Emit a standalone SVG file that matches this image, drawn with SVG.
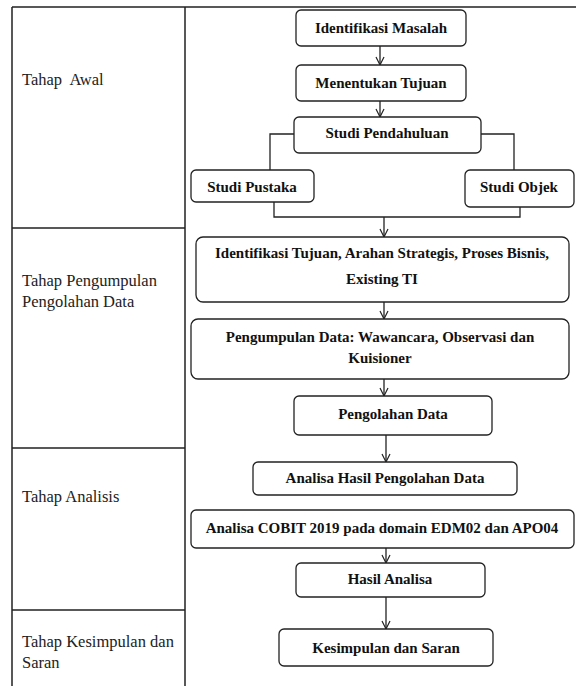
<svg xmlns="http://www.w3.org/2000/svg" width="576" height="686" viewBox="0 0 576 686">
<style>
.tbl{stroke:#222;stroke-width:1.5;fill:none}
.box{fill:#fff;stroke:#222;stroke-width:1.3}
.lbl{font-family:"Liberation Serif","Times New Roman",serif;font-size:16.5px;fill:#222}
.t{font-family:"Liberation Serif","Times New Roman",serif;font-size:15px;font-weight:bold;fill:#111;text-anchor:middle}
.c{stroke:#222;stroke-width:1.3;fill:none}
</style>
<defs>
<marker id="ah" markerUnits="userSpaceOnUse" markerWidth="12" markerHeight="12" viewBox="-10 -6 12 12" refX="0" refY="0" orient="auto">
<path d="M-8,-4 L0,0 L-8,4" fill="none" stroke="#222" stroke-width="1.2"/>
</marker>
</defs>
<rect width="576" height="686" fill="#fff"/>
<g id="table">
<path class="tbl" d="M12,7 H576 M12,7 V686 M185,7 V686 M12,228 H185 M12,448 H185 M12,610 H185"/>
<text class="lbl" x="22" y="85" xml:space="preserve">Tahap  Awal</text>
<text class="lbl" x="22" y="286">Tahap Pengumpulan</text>
<text class="lbl" x="22" y="307">Pengolahan Data</text>
<text class="lbl" x="22" y="502">Tahap Analisis</text>
<text class="lbl" x="22" y="647">Tahap Kesimpulan dan</text>
<text class="lbl" x="22" y="668">Saran</text>
</g>
<g id="connectors">
<path class="c" d="M380,46 V65" marker-end="url(#ah)"/>
<path class="c" d="M380,101 V117" marker-end="url(#ah)"/>
<path class="c" d="M294,134 H270 V170"/>
<path class="c" d="M481,134 H514 V170"/>
<path class="c" d="M274,202 V217 H520 V207"/>
<path class="c" d="M384,217 V237" marker-end="url(#ah)"/>
<path class="c" d="M384,302 V319" marker-end="url(#ah)"/>
<path class="c" d="M384,379 V396" marker-end="url(#ah)"/>
<path class="c" d="M386,435 V462" marker-end="url(#ah)"/>
<path class="c" d="M386,548 V563" marker-end="url(#ah)"/>
<path class="c" d="M386,597 V629" marker-end="url(#ah)"/>
</g>
<g id="n1"><rect class="box" x="296" y="10" width="170" height="36" rx="5"/><text class="t" x="381" y="33">Identifikasi Masalah</text></g>
<g id="n2"><rect class="box" x="296" y="65" width="170" height="36" rx="5"/><text class="t" x="381" y="88">Menentukan Tujuan</text></g>
<g id="n3"><rect class="box" x="294" y="117" width="187" height="36" rx="5"/><text class="t" x="387" y="138">Studi Pendahuluan</text></g>
<g id="n4"><rect class="box" x="191" y="170" width="123" height="32" rx="5"/><text class="t" x="252" y="192">Studi Pustaka</text></g>
<g id="n5"><rect class="box" x="465" y="170" width="109" height="37" rx="5"/><text class="t" x="519" y="192">Studi Objek</text></g>
<g id="n6"><rect class="box" x="196" y="237" width="373" height="65" rx="7"/><text class="t" x="382" y="258">Identifikasi Tujuan, Arahan Strategis, Proses Bisnis,</text><text class="t" x="382" y="284">Existing TI</text></g>
<g id="n7"><rect class="box" x="191" y="319" width="378" height="60" rx="7"/><text class="t" x="380" y="342">Pengumpulan Data: Wawancara, Observasi dan</text><text class="t" x="380" y="363">Kuisioner</text></g>
<g id="n8"><rect class="box" x="294" y="396" width="198" height="39" rx="5"/><text class="t" x="393" y="419">Pengolahan Data</text></g>
<g id="n9"><rect class="box" x="253" y="462" width="264" height="33" rx="5"/><text class="t" x="385" y="483">Analisa Hasil Pengolahan Data</text></g>
<g id="n10"><rect class="box" x="191" y="510" width="383" height="38" rx="5"/><text class="t" x="382" y="533">Analisa COBIT 2019 pada domain EDM02 dan APO04</text></g>
<g id="n11"><rect class="box" x="296" y="563" width="189" height="34" rx="5"/><text class="t" x="390" y="584">Hasil Analisa</text></g>
<g id="n12"><rect class="box" x="279" y="629" width="214" height="37" rx="5"/><text class="t" x="386" y="653">Kesimpulan dan Saran</text></g>
</svg>
